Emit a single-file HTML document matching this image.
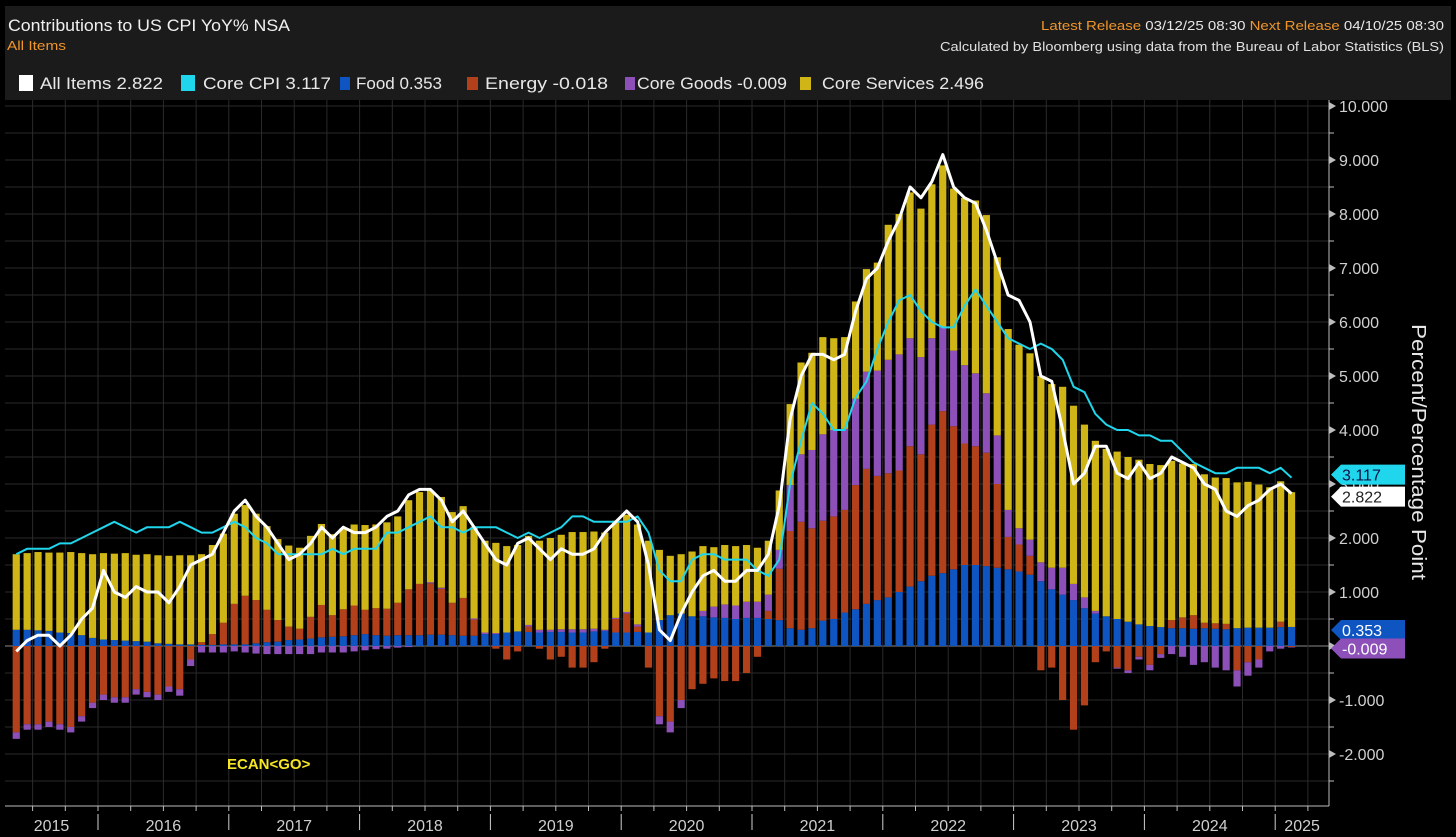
<!DOCTYPE html>
<html><head><meta charset="utf-8"><style>
html,body{margin:0;padding:0;background:#000;width:1456px;height:837px;overflow:hidden}
svg{display:block}
text{font-family:"Liberation Sans Narrow","Liberation Sans",sans-serif}
</style></head><body>
<svg id="c" width="1456" height="837" xmlns="http://www.w3.org/2000/svg">
<rect x="0" y="0" width="1456" height="837" fill="#000"/>
<rect x="5" y="6" width="1446" height="94" fill="#1b1b1b"/>
<text x="8" y="31" font-size="17" fill="#f0f0f0" textLength="282" lengthAdjust="spacingAndGlyphs">Contributions to US CPI YoY% NSA</text>
<text x="7" y="50" font-size="13" fill="#f0952a" textLength="59" lengthAdjust="spacingAndGlyphs">All Items</text>
<text x="1444" y="30" font-size="13" text-anchor="end" fill="#e8e8e8" textLength="403" lengthAdjust="spacingAndGlyphs"><tspan fill="#f0952a">Latest Release</tspan> 03/12/25 08:30  <tspan fill="#f0952a">Next Release</tspan> 04/10/25 08:30</text>
<text x="1444" y="51" font-size="13" text-anchor="end" fill="#e0e0e0" textLength="504" lengthAdjust="spacingAndGlyphs">Calculated by Bloomberg using data from the Bureau of Labor Statistics (BLS)</text>
<g id="legend"></g>
<g id="grid"></g>
<g id="bars"></g>
<g id="lines"></g>
<g id="axes"></g>
<text x="227" y="769" font-size="15" font-weight="bold" fill="#f5e625" style="font-family:'Liberation Sans',sans-serif">ECAN&lt;GO&gt;</text>
<text transform="translate(1412,452) rotate(90)" font-size="20" text-anchor="middle" fill="#e8e8e8" textLength="256" lengthAdjust="spacingAndGlyphs" style="font-family:'Liberation Sans',sans-serif">Percent/Percentage Point</text>
</svg>
<script>
const startYear=2015, startMonth=5;
const years=["2015","2016","2017","2018","2019","2020","2021","2022","2023","2024","2025"];
const yTicks=[-2,-1,0,1,2,3,4,5,6,7,8,9,10];
const food=[.30,.30,.29,.28,.25,.24,.20,.15,
.12,.11,.10,.09,.08,.05,.04,.03,.03,.02,.02,.03,
.03,.03,.05,.07,.08,.11,.12,.14,.16,.17,.18,.20,
.22,.20,.19,.20,.20,.20,.21,.21,.20,.19,.19,.22,
.22,.25,.27,.26,.25,.26,.26,.25,.25,.27,.28,.25,
.25,.26,.25,.48,.57,.60,.55,.55,.53,.52,.50,.52,
.52,.50,.48,.33,.30,.33,.47,.50,.62,.68,.78,.85,
.90,1.0,1.1,1.2,1.3,1.35,1.42,1.5,1.5,1.48,1.45,1.42,
1.38,1.32,1.2,1.05,.95,.85,.7,.6,.55,.5,.45,.4,
.37,.35,.33,.33,.32,.33,.32,.31,.33,.34,.34,.34,
.35,.353];
const energy=[-1.6,-1.45,-1.45,-1.4,-1.45,-1.5,-1.3,-1.05,
-0.9,-0.95,-0.95,-0.8,-0.85,-0.9,-0.75,-0.8,-0.25,0.05,0.2,0.4,
0.75,0.9,0.8,0.6,0.4,0.25,0.2,0.4,0.6,0.4,0.5,0.55,
0.45,0.5,0.5,0.6,0.85,0.95,0.95,0.85,0.6,0.7,0.3,0.0,
-0.05,-0.25,-0.1,0.1,-0.05,-0.25,-0.2,-0.4,-0.4,-0.3,-0.05,0.25,
0.35,0.1,-0.4,-1.3,-1.4,-1.0,-0.8,-0.7,-0.6,-0.65,-0.65,-0.5,
-0.2,0.15,0.95,1.8,2.0,1.85,1.85,1.9,1.9,2.3,2.5,2.3,
2.3,2.25,2.6,2.35,2.8,3.0,2.65,2.25,2.2,2.1,1.55,0.6,
0.5,0.35,-0.45,-0.4,-1.0,-1.55,-1.1,-0.3,-0.1,-0.4,-0.45,-0.2,
-0.35,-0.15,0.15,0.2,0.25,0.1,0.1,0.1,-0.45,-0.3,-0.25,0.0,
0.1,-0.018];
const coreGoods=[-0.12,-0.1,-0.1,-0.1,-0.1,-0.1,-0.1,-0.1,
-0.1,-0.1,-0.1,-0.1,-0.1,-0.1,-0.1,-0.12,-0.12,-0.12,-0.12,-0.12,
-0.1,-0.12,-0.14,-0.15,-0.15,-0.15,-0.15,-0.15,-0.12,-0.12,-0.12,-0.1,
-0.08,-0.06,-0.05,-0.03,-0.02,0.0,0.02,0.02,0.0,0.0,0.02,0.03,
0.02,0.0,0.0,0.03,0.05,0.04,0.05,0.06,0.06,0.05,0.02,0.02,
0.03,0.04,0.0,-0.15,-0.2,-0.15,0.0,0.1,0.2,0.25,0.25,0.3,
0.3,0.3,0.35,0.85,1.25,1.45,1.6,1.6,1.5,1.6,1.8,1.95,
2.1,2.15,2.0,1.8,1.6,1.55,1.4,1.45,1.35,1.1,0.9,0.5,
0.3,0.3,0.35,0.4,0.5,0.3,0.2,0.05,0.0,-0.02,-0.05,-0.05,
-0.1,-0.07,-0.15,-0.2,-0.35,-0.3,-0.4,-0.45,-0.3,-0.25,-0.15,-0.1,
-0.05,-0.009];
const coreServices=[1.4,1.42,1.45,1.45,1.48,1.5,1.52,1.55,
1.6,1.6,1.62,1.6,1.62,1.63,1.63,1.65,1.65,1.63,1.65,1.65,
1.67,1.68,1.6,1.55,1.5,1.5,1.5,1.5,1.5,1.5,1.5,1.5,
1.57,1.55,1.6,1.6,1.65,1.7,1.7,1.68,1.68,1.7,1.7,1.7,
1.67,1.6,1.6,1.65,1.65,1.7,1.75,1.8,1.8,1.8,1.8,1.8,
1.8,1.85,1.7,1.3,1.1,1.1,1.2,1.2,1.1,1.1,1.1,1.05,
1.0,1.0,1.1,1.5,1.7,1.8,1.8,1.7,1.7,1.8,1.9,2.0,
2.5,2.6,2.7,2.75,2.85,3.0,3.0,3.1,3.2,3.3,3.3,3.35,
3.4,3.45,3.45,3.4,3.35,3.3,3.2,3.15,3.1,3.1,3.05,3.05,
3.0,3.0,2.95,2.85,2.8,2.75,2.7,2.7,2.7,2.7,2.65,2.6,
2.6,2.496];
const allItems=[-0.1,0.1,0.2,0.2,0.0,0.2,0.5,0.7,
1.4,1.0,0.9,1.1,1.0,1.0,0.8,1.1,1.5,1.6,1.7,2.1,
2.5,2.7,2.4,2.2,1.9,1.6,1.7,1.9,2.2,2.0,2.2,2.1,
2.1,2.2,2.4,2.5,2.8,2.9,2.9,2.7,2.3,2.5,2.2,1.9,
1.6,1.5,1.9,2.0,1.8,1.6,1.8,1.7,1.7,1.8,2.1,2.3,
2.5,2.3,1.5,0.3,0.1,0.6,1.0,1.3,1.4,1.2,1.2,1.4,
1.4,1.7,2.6,4.2,5.0,5.4,5.4,5.3,5.4,6.2,6.8,7.0,
7.5,7.9,8.5,8.3,8.6,9.1,8.5,8.3,8.2,7.7,7.1,6.5,
6.4,6.0,5.0,4.9,4.0,3.0,3.2,3.7,3.7,3.2,3.1,3.4,
3.1,3.2,3.5,3.4,3.3,3.0,2.9,2.5,2.4,2.6,2.7,2.9,
3.0,2.822];
const coreCPI=[1.7,1.8,1.8,1.8,1.9,1.9,2.0,2.1,
2.2,2.3,2.2,2.1,2.2,2.2,2.2,2.3,2.2,2.1,2.1,2.2,
2.3,2.2,2.0,1.9,1.7,1.7,1.7,1.7,1.7,1.8,1.7,1.8,
1.8,1.8,2.1,2.1,2.2,2.3,2.4,2.2,2.2,2.1,2.2,2.2,
2.2,2.1,2.0,2.1,2.0,2.1,2.2,2.4,2.4,2.3,2.3,2.3,
2.3,2.4,2.1,1.4,1.2,1.2,1.6,1.7,1.7,1.6,1.6,1.6,
1.4,1.3,1.6,3.0,3.8,4.5,4.3,4.0,4.0,4.6,4.9,5.5,
6.0,6.4,6.5,6.2,6.0,5.9,5.9,6.3,6.6,6.3,6.0,5.7,
5.6,5.5,5.6,5.5,5.3,4.8,4.7,4.3,4.1,4.0,4.0,3.9,
3.9,3.8,3.8,3.6,3.4,3.3,3.2,3.2,3.3,3.3,3.3,3.2,
3.3,3.117];
const legendLabels=["All Items 2.822","Core CPI 3.117","Food 0.353","Energy -0.018","Core Goods -0.009","Core Services 2.496"];

const NS="http://www.w3.org/2000/svg";
const C={all:"#ffffff",core:"#1fd6ec",food:"#0f55c2",energy:"#b2411b",goods:"#8c50b8",serv:"#d0b516"};
const plotL=5,plotR=1329,plotT=100,plotB=806;
const y0=646,ppu=54;
const yS=v=>y0-v*ppu;
const janX=98,ppm=10.9;
const xC=i=>{const m=(startMonth-1)+i-12;return janX+(m+0.5)*ppm;};
const yearStartX=k=>janX+(k-1)*12*ppm;
function mk(tag,attrs,parent){const e=document.createElementNS(NS,tag);for(const k in attrs)e.setAttribute(k,attrs[k]);parent.appendChild(e);return e;}

const grid=document.getElementById('grid');
for(let v=-3.5;v<=10;v+=0.5){const y=yS(v);if(y<plotT||y>plotB-2)continue;
 const l=mk('line',{x1:plotL,x2:plotR,y1:y,y2:y,stroke:v===0?"#8a8a8a":"#2a2a2a","stroke-width":1},grid);
 
 }
for(let q=-2;q<=40;q++){const x=janX+q*3*ppm;if(x<plotL||x>plotR)continue;
 const l=mk('line',{x1:x,x2:x,y1:plotT,y2:plotB,stroke:"#2a2a2a","stroke-width":1},grid);
 
 }

const bars=document.getElementById('bars');
const bw=7.2;
for(let i=0;i<food.length;i++){
 const parts=[[food[i],C.food,'food'],[energy[i],C.energy,'energy'],[coreGoods[i],C.goods,'core-goods'],[coreServices[i],C.serv,'core-services']];
 let pos=0,neg=0;
 for(const [v,col,nm] of parts){
  let a,b;
  if(v>=0){a=pos;b=pos+v;pos=b;}else{a=neg;b=neg+v;neg=b;}
  const yt=yS(Math.max(a,b)),yb=yS(Math.min(a,b));
  const r=mk('rect',{x:xC(i)-bw/2,y:yt,width:bw,height:Math.max(0,yb-yt),fill:col},bars);
  
  
 }
}
const lines=document.getElementById('lines');
function line(arr,col,w,nm){let d='';arr.forEach((v,i)=>{d+=(i?'L':'M')+xC(i).toFixed(1)+','+yS(v).toFixed(1);});
 const p=mk('path',{d:d,fill:'none',stroke:col,'stroke-width':w,'stroke-linejoin':'round'},lines);
 
 }
line(coreCPI,C.core,2,'core-cpi-line');
line(allItems,C.all,3,'all-items-line');

const axes=document.getElementById('axes');
let a=mk('line',{x1:plotR,x2:plotR,y1:plotT,y2:plotB,stroke:"#bdbdbd","stroke-width":1},axes);


a=mk('line',{x1:plotL,x2:plotR,y1:plotB,y2:plotB,stroke:"#bdbdbd","stroke-width":1},axes);


yTicks.forEach(v=>{const y=yS(v);
 const p=mk('path',{d:`M${plotR},${y-4}L${plotR+7},${y}L${plotR},${y+4}Z`,fill:"#bdbdbd"},axes);
 
 
 const t=mk('text',{x:plotR+10,y:y+6,'font-size':16,fill:"#d0d0d0"},axes);t.textContent=v.toFixed(3);
 
 });
for(let v=-2.5;v<=9.5;v+=1){const y=yS(v);const l=mk('line',{x1:plotR,x2:plotR+5,y1:y,y2:y,stroke:"#bdbdbd"},axes);
 
 }
for(let q=-2;q<=40;q++){const x=janX+q*3*ppm;if(x<plotL||x>plotR)continue;
 const l=mk('line',{x1:x,x2:x,y1:plotB,y2:plotB+5,stroke:"#bdbdbd"},axes);
 
 }
years.forEach((yr,k)=>{const xs=Math.max(plotL,yearStartX(k)),xe=Math.min(plotR,yearStartX(k+1));
 const t=mk('text',{x:(xs+xe)/2,y:831,'font-size':16,fill:"#cfcfcf",'text-anchor':'middle'},axes);t.textContent=yr;
 
 
 if(k>0&&yearStartX(k)<plotR){const l=mk('line',{x1:yearStartX(k),x2:yearStartX(k),y1:814,y2:830,stroke:"#cfcfcf"},axes);
  
  }});
const last=food.length-1;
function tag(v,bg,fg,txt,nm,yOff){const y=yS(v)+(yOff||0);
 const p=mk('path',{d:`M${plotR+2},${y}L${plotR+12},${y-10}L${plotR+76},${y-10}L${plotR+76},${y+10}L${plotR+12},${y+10}Z`,fill:bg},axes);
 
 
 const t=mk('text',{x:plotR+13,y:y+6,'font-size':16,fill:fg},axes);t.textContent=txt;
 
 }
tag(allItems[last],"#ffffff","#222",allItems[last].toFixed(3),'all-items-tag',3);
tag(coreCPI[last],"#1fd6ec","#114",coreCPI[last].toFixed(3),'core-cpi-tag',-3);
tag(food[last],"#0f55c2","#fff",food[last].toFixed(3),'food-tag',3);
tag(coreGoods[last],"#8c50b8","#fff",coreGoods[last].toFixed(3),'core-goods-tag',2);

const lg=document.getElementById('legend');
const lcols=[C.all,C.core,C.food,C.energy,C.goods,C.serv];
const lx=[19,181,340,467,625,800];
const sw=[14,14,10,11,10,11];
const tx=[40,203,356,485,637,822];
const tw=[123,128,86,123,150,162];
legendLabels.forEach((s,i)=>{const r=mk('rect',{x:lx[i],y:i<2?75:77,width:sw[i],height:i<2?16:13,fill:lcols[i]},lg);
 
 
 const t=mk('text',{x:tx[i],y:89,'font-size':17,fill:"#e8e8e8",textLength:tw[i],lengthAdjust:'spacingAndGlyphs'},lg);t.textContent=s;
 
 });
</script>
</body></html>
